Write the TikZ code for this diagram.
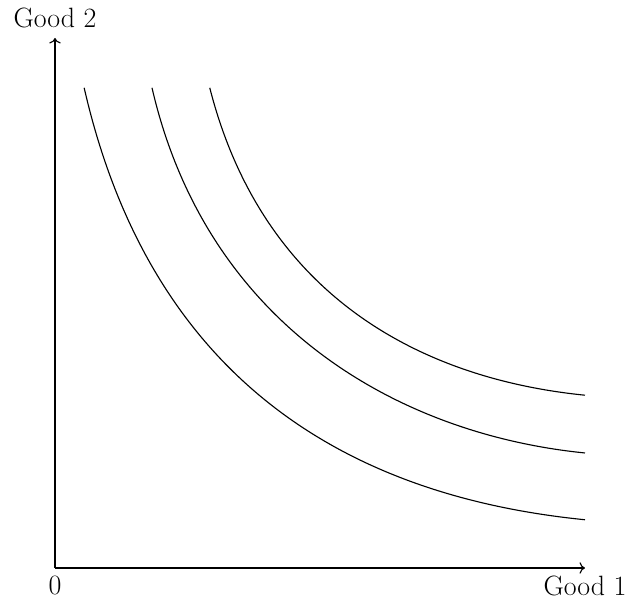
\documentclass[tikz,border=0pt]{standalone}
\usepackage{tikz}
\usetikzlibrary{positioning, arrows.meta}

\tikzset{
  axis/.style={->, line width=0.6pt},
  curve/.style={line width=0.6pt},
  axislabel/.style={font=\fontsize{15}{18}\selectfont, inner sep=2pt}
}

\begin{document}
\begin{tikzpicture}
  \useasboundingbox (-1.038, -0.755) rectangle (11.038, 10.717);

  % Axes
  \coordinate (O) at (0, 0);
  \coordinate (xend) at (10, 0);
  \coordinate (yend) at (0, 10);
  \draw[axis] (O) -- (xend);
  \draw[axis] (O) -- (yend);

  % Labels
  \node[axislabel, anchor=south] (ylab) at (0, 10.12) {Good 2};
  \node[axislabel, below=2pt of O] (zero) {0};
  \node[axislabel, below=2pt of xend] (xlab) {Good 1};

  % Indifference curves
  \draw[curve] (0.55, 9.06) .. controls (1.81, 3.56) and (5.5, 1.36) .. (10, 0.91);
  \draw[curve] (1.83, 9.06) .. controls (2.87, 4.56) and (6.5, 2.52) .. (10, 2.17);
  \draw[curve] (2.92, 9.06) .. controls (3.94, 5.06) and (7, 3.56) .. (10, 3.26);
\end{tikzpicture}
\end{document}
